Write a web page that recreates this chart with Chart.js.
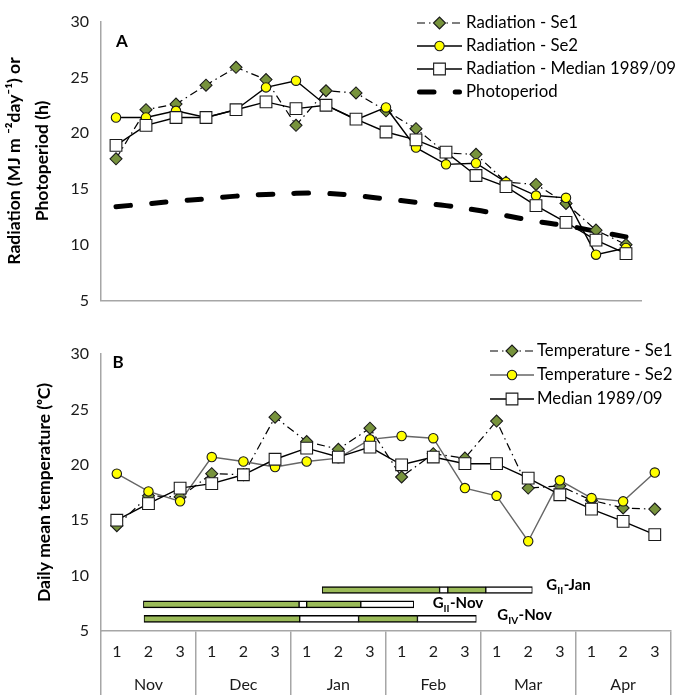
<!DOCTYPE html>
<html>
<head>
<meta charset="utf-8">
<title>Radiation, photoperiod and temperature</title>
<script src="https://cdn.jsdelivr.net/npm/chart.js@4.4.1/dist/chart.umd.min.js"></script>
<style>
  html, body { margin: 0; padding: 0; background: #fff; }
  body { width: 680px; height: 695px; overflow: hidden; position: relative; }
  .panel { position: absolute; left: 0; width: 680px; }
  #panelA { top: 0; height: 322px; }
  #panelB { top: 330px; height: 365px; }
</style>
</head>
<body>
<div class="panel" id="panelA"><canvas id="chartA"></canvas></div>
<div class="panel" id="panelB"><canvas id="chartB"></canvas></div>
<script>
// Categories: three dekads per month
const months = ['Nov', 'Dec', 'Jan', 'Feb', 'Mar', 'Apr'];
const dekads = ['1', '2', '3'];

// Panel A - radiation (MJ m-2 day-1) and photoperiod (h)
const radiationSe1 = [17.7, 22.1, 22.6, 24.3, 25.9, 24.8, 20.7, 23.8, 23.6, 22.0, 20.4, 18.2, 18.1, 15.6, 15.4, 13.7, 11.3, 10.0];
const radiationSe2 = [21.4, 21.4, 22.0, 21.4, 22.1, 24.1, 24.7, 22.5, 21.2, 22.3, 18.7, 17.2, 17.3, 15.6, 14.4, 14.2, 9.1, 9.7];
const radiationMedian = [18.9, 20.7, 21.4, 21.4, 22.1, 22.8, 22.2, 22.5, 21.25, 20.1, 19.4, 18.3, 16.2, 15.2, 13.5, 12.0, 10.4, 9.2];
const photoperiod = [13.4, 13.65, 13.9, 14.1, 14.35, 14.5, 14.6, 14.6, 14.4, 14.1, 13.8, 13.5, 13.1, 12.6, 12.1, 11.7, 11.2, 10.7];

// Panel B - daily mean temperature (oC)
const temperatureSe1 = [14.5, 17.2, 17.1, 19.2, 19.1, 24.3, 22.1, 21.4, 23.3, 18.9, 21.0, 20.6, 23.95, 17.9, 18.1, 16.8, 16.1, 16.0];
const temperatureSe2 = [19.2, 17.6, 16.7, 20.7, 20.3, 19.8, 20.3, 20.6, 22.3, 22.6, 22.4, 17.9, 17.2, 13.1, 18.6, 17.0, 16.7, 19.3];
const temperatureMedian = [15.0, 16.5, 17.9, 18.3, 19.1, 20.5, 21.5, 20.7, 21.6, 20.0, 20.7, 20.1, 20.1, 18.8, 17.3, 16.0, 14.9, 13.7];

// Crop cycles drawn under panel B (stage boundaries in dekad index units)
const cycleGroups = ['II', 'II', 'IV'];
const cycleSowing = ['Jan', 'Nov', 'Nov'];
const cycleLevels = [8.7, 7.4, 6.1];
const gIIJanStages = [6.49, 10.2, 10.46, 11.66, 13.13];
const gIINovStages = [0.84, 5.76, 6.0, 7.71, 9.38];
const gIVNovStages = [0.86, 5.78, 7.64, 9.5, 11.36];
const cycleStages = [gIIJanStages, gIINovStages, gIVNovStages];

const FONT = 'Lato, "Open Sans", sans-serif';
const AXIS = '#a6a6a6';
const OLIVE = '#77933c';
const YELLOW = '#ffff00';
const BAR_GREEN = '#9bbb59';
const DASH_DOT = [8, 4, 1.5, 4];

Chart.defaults.font.family = FONT;
Chart.defaults.color = '#1a1a1a';

const categories = months.flatMap(m => dekads.map(d => d === '2' ? [d, m] : d));

// green = growing stage, white = following stage
const greenBars = [];
const whiteBars = [];
cycleStages.forEach((stages, r) => {
  for (let i = 0; i < stages.length - 1; i++) {
    const seg = { x: [stages[i], stages[i + 1]], y: cycleLevels[r] };
    (i % 2 === 0 ? greenBars : whiteBars).push(seg);
  }
});

function drawMarker(ctx, style, x, y, r, fill, stroke, width) {
  ctx.beginPath();
  if (style === 'circle') {
    ctx.arc(x, y, r, 0, Math.PI * 2);
  } else if (style === 'rectRot') {
    ctx.moveTo(x - r, y); ctx.lineTo(x, y - r); ctx.lineTo(x + r, y); ctx.lineTo(x, y + r);
    ctx.closePath();
  } else {
    const h = r * Math.SQRT1_2;
    ctx.rect(x - h, y - h, 2 * h, 2 * h);
  }
  ctx.fillStyle = fill;
  ctx.fill();
  ctx.lineWidth = width;
  ctx.strokeStyle = stroke;
  ctx.stroke();
}

// legend drawn inside the plot, line sample + marker + label
const insideLegend = {
  id: 'insideLegend',
  afterDraw(chart, args, o) {
    const ctx = chart.ctx;
    ctx.save();
    let row = 0;
    chart.data.datasets.forEach(ds => {
      if (ds.type === 'bar') return;
      const y = o.top + row * o.rowHeight;
      ctx.beginPath();
      ctx.setLineDash(ds.borderDash || []);
      ctx.lineCap = ds.borderCapStyle || 'butt';
      ctx.lineWidth = ds.borderWidth;
      ctx.strokeStyle = ds.borderColor;
      const pad = ds.borderCapStyle === 'round' ? ds.borderWidth / 2 : 0;
      ctx.moveTo(o.left + pad, y);
      ctx.lineTo(o.left + o.lineLength - pad, y);
      ctx.stroke();
      ctx.setLineDash([]);
      if (ds.pointRadius > 0) {
        drawMarker(ctx, ds.pointStyle, o.left + o.lineLength / 2, y, ds.pointRadius,
          ds.pointBackgroundColor, ds.pointBorderColor, ds.pointBorderWidth);
      }
      ctx.fillStyle = '#000';
      ctx.font = '16.8px ' + FONT;
      ctx.textAlign = 'left';
      ctx.textBaseline = 'middle';
      ctx.fillText(ds.label, o.left + o.lineLength + o.gap, y);
      row++;
    });
    ctx.restore();
  }
};

const panelLetter = {
  id: 'panelLetter',
  afterDraw(chart, args, o) {
    const { ctx, chartArea } = chart;
    ctx.save();
    ctx.font = 'bold 17px ' + FONT;
    ctx.fillStyle = '#000';
    ctx.textAlign = 'center';
    ctx.textBaseline = 'middle';
    ctx.fillText(o.text, chartArea.left + o.dx, chartArea.top + o.dy);
    ctx.restore();
  }
};

// G(sub)-sowing labels next to the cycle bars
const cycleNames = {
  id: 'cycleNames',
  afterDraw(chart) {
    const { ctx, scales } = chart;
    ctx.save();
    ctx.fillStyle = '#000';
    ctx.textBaseline = 'alphabetic';
    cycleStages.forEach((stages, r) => {
      let x = scales.xg.getPixelForValue(stages[stages.length - 1]) + [14, 19, 21][r];
      const y = scales.y.getPixelForValue(cycleLevels[r]) + [0, 4, 1][r];
      ctx.font = 'bold 15px ' + FONT;
      ctx.fillText('G', x, y);
      x += ctx.measureText('G').width;
      ctx.font = 'bold 10px ' + FONT;
      ctx.fillText(cycleGroups[r], x, y + 4);
      x += ctx.measureText(cycleGroups[r]).width + 0.5;
      ctx.font = 'bold 15px ' + FONT;
      ctx.fillText('-' + cycleSowing[r], x, y);
    });
    ctx.restore();
  }
};

function lineSet(label, data, style, extra) {
  return Object.assign({
    label: label,
    data: data,
    borderColor: '#000',
    borderWidth: 1.4,
    pointStyle: style,
    pointBorderColor: '#1a1a1a',
    pointBorderWidth: 1.1,
    pointHoverRadius: 0,
    fill: false,
    tension: 0
  }, extra);
}

const yTicks = { stepSize: 5, padding: 12, font: { size: 16 }, color: '#1a1a1a' };

new Chart(document.getElementById('chartA'), {
  type: 'line',
  data: {
    labels: categories,
    datasets: [
      lineSet('Radiation - Se1', radiationSe1, 'rectRot', { borderWidth: 1.2, borderDash: DASH_DOT, pointRadius: 6, pointBackgroundColor: OLIVE, order: 2 }),
      lineSet('Radiation - Se2', radiationSe2, 'circle', { pointRadius: 4.7, pointBackgroundColor: YELLOW, order: 1 }),
      lineSet('Radiation - Median 1989/09', radiationMedian, 'rect', { pointRadius: 8.3, pointBackgroundColor: '#fff', order: 0 }),
      lineSet('Photoperiod', photoperiod, 'circle', { borderWidth: 5, borderDash: [14.5, 21.2], borderCapStyle: 'round', pointRadius: 0, tension: 0.4, order: 3 })
    ]
  },
  options: {
    animation: false,
    responsive: true,
    maintainAspectRatio: false,
    layout: { padding: { top: 21, right: 39, bottom: 20, left: 0 } },
    plugins: {
      legend: { display: false },
      tooltip: { enabled: false },
      insideLegend: { left: 417, top: 23, rowHeight: 23, lineLength: 45, gap: 4 },
      panelLetter: { text: 'A', dx: 21, dy: 20 }
    },
    scales: {
      x: {
        offset: true,
        grid: { display: false },
        ticks: { display: false },
        border: { color: AXIS, width: 1.5 },
        afterFit: s => { s.height = 0; }
      },
      y: {
        min: 5, max: 30,
        ticks: yTicks,
        grid: { display: false, drawTicks: false },
        border: { color: AXIS, width: 1.5 },
        title: {
          display: true,
          text: ['Radiation (MJ m \u207B\u00B2day\u207B\u00B9) or', 'Photoperiod (h)'],
          color: '#000',
          font: { size: 17.5, weight: 'bold', lineHeight: 1.6 },
          padding: { top: 0, bottom: 0 }
        },
        afterFit: s => { s.width = 101; }
      }
    }
  },
  plugins: [insideLegend, panelLetter]
});

new Chart(document.getElementById('chartB'), {
  type: 'line',
  data: {
    labels: categories,
    datasets: [
      lineSet('Temperature - Se1', temperatureSe1, 'rectRot', { borderWidth: 1.2, borderDash: DASH_DOT, pointRadius: 6, pointBackgroundColor: OLIVE, order: 2 }),
      lineSet('Temperature - Se2', temperatureSe2, 'circle', { borderColor: '#666', pointRadius: 4.7, pointBackgroundColor: YELLOW, order: 1 }),
      lineSet('Median 1989/09', temperatureMedian, 'rect', { pointRadius: 8.3, pointBackgroundColor: '#fff', order: 0 }),
      {
        type: 'bar', label: 'stage 1', data: greenBars, indexAxis: 'y', xAxisID: 'xg', yAxisID: 'y',
        backgroundColor: BAR_GREEN, borderColor: '#000', borderWidth: { top: 1.5, bottom: 1.5, left: 1, right: 1 },
        borderSkipped: false, barThickness: 7, grouped: false, order: 4
      },
      {
        type: 'bar', label: 'stage 2', data: whiteBars, indexAxis: 'y', xAxisID: 'xg', yAxisID: 'y',
        backgroundColor: '#fff', borderColor: '#000', borderWidth: { top: 1.5, bottom: 1.5, left: 1, right: 1 },
        borderSkipped: false, barThickness: 7, grouped: false, order: 5
      }
    ]
  },
  options: {
    animation: false,
    responsive: true,
    maintainAspectRatio: false,
    layout: { padding: { top: 24, right: 9, bottom: 0, left: 0 } },
    plugins: {
      legend: { display: false },
      tooltip: { enabled: false },
      insideLegend: { left: 490, top: 21, rowHeight: 24, lineLength: 44, gap: 3 },
      panelLetter: { text: 'B', dx: 17, dy: 9 }
    },
    scales: {
      x: {
        type: 'category',
        offset: true,
        grid: {
          display: true,
          offset: true,
          drawOnChartArea: false,
          drawTicks: true,
          tickLength: 64,
          lineWidth: 1.5,
          color: c => (c.index === undefined || c.index % 3 === 0) ? AXIS : 'rgba(0,0,0,0)'
        },
        ticks: { autoSkip: false, maxRotation: 0, padding: -59.5, font: { size: 16, lineHeight: 2.06 }, color: '#1a1a1a' },
        border: { color: AXIS, width: 1.5 },
        afterFit: s => { s.height = 64; }
      },
      xg: { type: 'linear', display: false, offset: false, min: -0.5, max: 17.5 },
      y: {
        type: 'linear',
        offset: false,
        min: 5, max: 30,
        ticks: yTicks,
        grid: { display: false, offset: false, drawTicks: false },
        border: { color: AXIS, width: 1.5 },
        title: {
          display: true,
          text: 'Daily mean temperature (\u1D52C)',
          color: '#000',
          font: { size: 17.5, weight: 'bold', lineHeight: 1.2 },
          padding: { top: 34, bottom: 0 }
        },
        afterFit: s => { s.width = 101; }
      }
    }
  },
  plugins: [insideLegend, panelLetter, cycleNames]
});
</script>
</body>
</html>
